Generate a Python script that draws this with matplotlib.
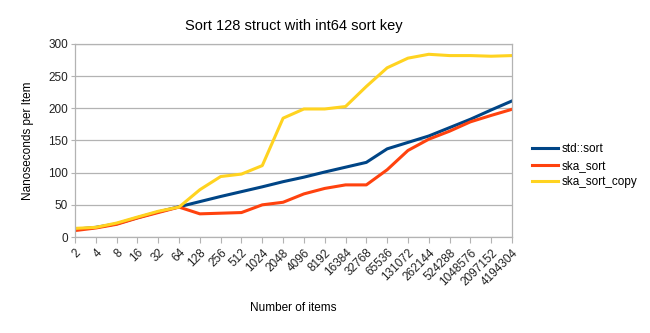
import matplotlib
matplotlib.use("Agg")
import matplotlib.pyplot as plt

plt.rcParams['font.family'] = ['Liberation Sans', 'DejaVu Sans']

item_counts = ["2", "4", "8", "16", "32", "64", "128", "256", "512", "1024", "2048",
               "4096", "8192", "16384", "32768", "65536", "131072", "262144",
               "524288", "1048576", "2097152", "4194304"]

std_sort = [12, 15, 20.5, 30, 39, 47, 55, 63, 70.5, 78, 86, 93, 101, 108.5, 116,
            137, 147, 157, 170, 183, 197.5, 211.5]
ska_sort = [10, 14, 19.7, 29.5, 38, 46.5, 36, 37, 38, 50, 54, 67, 75.5, 81, 81,
            104.5, 134.5, 152, 164.5, 179, 189, 198.5]
ska_sort_copy = [13.4, 15, 21.7, 31, 40, 46.5, 73.5, 94, 97.8, 111, 184.7, 199,
                 199, 202.8, 234, 263, 278, 284, 282, 282, 281, 282]

series = [("std::sort", std_sort, "#004586"),
          ("ska_sort", ska_sort, "#ff420e"),
          ("ska_sort_copy", ska_sort_copy, "#ffd320")]

W, H = 650, 333
fig = plt.figure(figsize=(W / 100, H / 100), dpi=100)
ax = fig.add_axes([75 / W, 1 - 237 / H, (512 - 75) / W, (237 - 44) / H])

x = list(range(len(item_counts)))
for name, vals, color in series:
    ax.plot(x, vals, color=color, linewidth=2.2, label=name, solid_joinstyle='round')

ax.set_xlim(0, len(item_counts) - 1)
ax.set_ylim(0, 300)
ax.set_yticks(range(0, 301, 50))
ax.set_xticks(x)
ax.set_xticklabels(item_counts, rotation=45, ha='right', rotation_mode='anchor',
                   fontsize=8.5, color='#222222')
ax.tick_params(axis='y', labelsize=8.5, labelcolor='#222222', length=3,
               color='#b3b3b3', pad=2)
ax.tick_params(axis='x', length=4, color='#b3b3b3', pad=3)

ax.grid(axis='y', color='#b3b3b3', linewidth=0.9)
ax.set_axisbelow(True)
for sp in ax.spines.values():
    sp.set_color('#b3b3b3')
    sp.set_linewidth(0.9)

ax.set_title("Sort 128 struct with int64 sort key", fontsize=10.5, pad=10)
ax.set_ylabel("Nanoseconds per Item", fontsize=8.5, labelpad=10)
ax.set_xlabel("Number of items", fontsize=8.5, labelpad=10)

fig.legend(loc='upper left', bbox_to_anchor=(532 / W, 1 - 143 / H),
           frameon=False, fontsize=8.5, handlelength=2.2, handletextpad=0.35,
           labelspacing=0.4, borderpad=0, borderaxespad=0)

fig.savefig("out.png", dpi=100)
